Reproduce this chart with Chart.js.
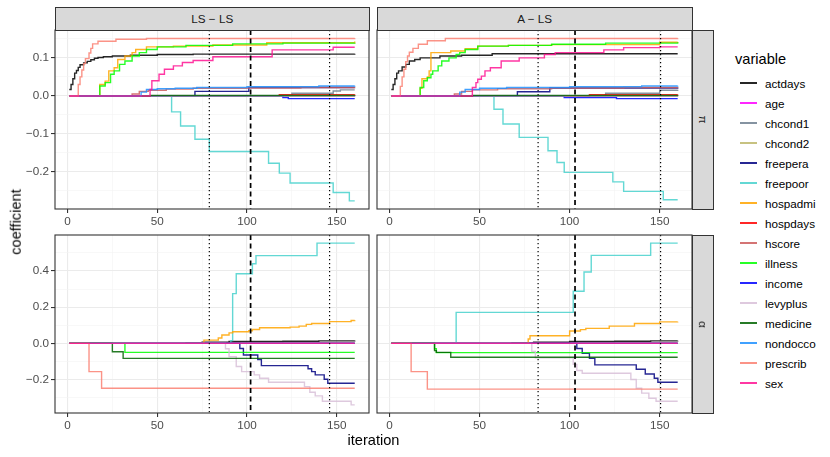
<!DOCTYPE html>
<html><head><meta charset="utf-8">
<script src="https://cdn.jsdelivr.net/npm/chart.js@4.4.0/dist/chart.umd.min.js"></script>
<style>
html,body{margin:0;padding:0;background:#fff;}
body{width:830px;height:457px;position:relative;overflow:hidden;font-family:"Liberation Sans",Arial,sans-serif;}
canvas{position:absolute;}
.strip{position:absolute;background:#D9D9D9;border:1px solid #333;box-sizing:border-box;color:#1A1A1A;font-size:11.7px;display:flex;align-items:center;justify-content:center;}
.strip.r span{display:inline-block;transform:rotate(90deg);}
.atitle{position:absolute;font-size:14.6px;color:#000;white-space:nowrap;}
.lg{position:absolute;font-size:11.7px;color:#000;white-space:nowrap;}
.key{position:absolute;height:2px;}
</style></head><body>
<canvas id="c0" width="371" height="203" style="left:0px;top:28px"></canvas>
<canvas id="c1" width="319" height="203" style="left:375px;top:28px"></canvas>
<canvas id="c2" width="371" height="202" style="left:0px;top:233px"></canvas>
<canvas id="c3" width="319" height="202" style="left:375px;top:233px"></canvas>
<div id="deco"></div>
<script>
// ---------------- DATA ----------------
const variables = ['actdays','age','chcond1','chcond2','freepera','freepoor','hospadmi','hospdays','hscore','illness','income','levyplus','medicine','nondocco','prescrib','sex'];
const facetCols = ['LS \u2212 LS', 'A \u2212 LS'];
const facetRows = ['\u03C0', '\u03B1'];
const xTicks = [0, 50, 100, 150];
const xMinorTicks = [25, 75, 125];
const piTicks = [-0.2, -0.1, 0, 0.1];
const piMinorTicks = [-0.25, -0.15, -0.05, 0.05, 0.15];
const alphaTicks = [-0.2, 0, 0.2, 0.4];
const alphaMinorTicks = [-0.3, -0.1, 0.1, 0.3, 0.5];
const vlinesLSLS = [79, 102, 146];
const vlinesALS = [82.5, 103, 150.5];

// step change points [iteration, coefficient] per variable (order of `variables`)
const stepsPiLSLS = [
  [[1,0.017],[2,0.03],[3,0.045],[4,0.06],[5,0.067],[6,0.075],[7,0.082],[9,0.087],[11,0.091],[13,0.095],[15,0.099],[17,0.101],[20,0.103],[25,0.105],[35,0.107],[50,0.109],[70,0.11],[160,0.111]],
  [[1,0],[160,0]],
  [[1,0],[124,0],[125,0.007],[148,0.013],[152,0.016],[160,0.016]],
  [[1,0],[160,0]],
  [[1,0],[70,0],[71,0.012],[101,0.022],[160,0.022]],
  [[1,0],[57,0],[58,-0.042],[63,-0.079],[71,-0.114],[79,-0.146],[112,-0.177],[118,-0.203],[124,-0.229],[148,-0.254],[157,-0.276],[160,-0.276]],
  [[1,0],[17,0],[18,0.03],[21,0.039],[23,0.066],[26,0.074],[28,0.096],[32,0.105],[36,0.114],[38,0.122],[44,0.129],[59,0.131],[81,0.134],[111,0.14],[160,0.143]],
  [[1,0],[117,0],[118,0.003],[160,0.004]],
  [[1,0],[35,0],[36,0.005],[40,0.012],[45,0.015],[55,0.018],[70,0.02],[100,0.021],[130,0.022],[160,0.023]],
  [[1,0],[17,0],[18,0.026],[21,0.035],[24,0.057],[26,0.066],[29,0.083],[32,0.092],[36,0.105],[40,0.114],[44,0.122],[50,0.129],[66,0.133],[92,0.137],[120,0.139],[160,0.14]],
  [[1,0],[119,0],[120,-0.004],[123,-0.007],[160,-0.007]],
  [[1,0],[160,0]],
  [[1,0],[45,0],[46,0.001],[160,0.002]],
  [[1,0],[40,0],[41,0.01],[44,0.017],[50,0.019],[60,0.02],[72,0.022],[100,0.024],[140,0.026],[160,0.027]],
  [[1,0],[5,0],[6,0.03],[7,0.05],[8,0.068],[9,0.085],[10,0.098],[12,0.113],[13,0.125],[14,0.137],[17,0.144],[27,0.149],[44,0.151],[160,0.152]],
  [[1,0],[45,0],[46,0.017],[47,0.04],[51,0.057],[54,0.07],[59,0.079],[64,0.088],[70,0.093],[81,0.103],[114,0.121],[148,0.128],[160,0.128]]
];
const stepsPiALS = [
  [[1,0.017],[2,0.03],[3,0.045],[4,0.06],[5,0.066],[7,0.076],[9,0.083],[11,0.092],[14,0.096],[17,0.1],[28,0.105],[40,0.107],[57,0.111],[160,0.111]],
  [[1,0],[160,0]],
  [[1,0],[119,0],[120,0.007],[150,0.015],[160,0.016]],
  [[1,0],[160,0]],
  [[1,0],[70,0],[71,0.011],[89,0.021],[160,0.022]],
  [[1,0],[57,0],[58,-0.035],[63,-0.074],[72,-0.109],[88,-0.144],[93,-0.175],[97,-0.201],[124,-0.226],[130,-0.251],[152,-0.273],[160,-0.273]],
  [[1,0],[16,0],[17,0.02],[18,0.045],[21,0.05],[22,0.066],[23,0.114],[34,0.118],[42,0.124],[49,0.131],[66,0.133],[90,0.135],[150,0.141],[160,0.142]],
  [[1,0],[110,0],[111,0.003],[160,0.004]],
  [[1,0],[35,0],[36,0.005],[40,0.012],[46,0.016],[60,0.019],[90,0.021],[130,0.022],[160,0.023]],
  [[1,0],[16,0],[17,0.022],[19,0.04],[21,0.048],[23,0.057],[24,0.066],[27,0.079],[29,0.092],[33,0.1],[37,0.109],[39,0.114],[42,0.122],[49,0.131],[66,0.133],[90,0.136],[120,0.139],[160,0.141]],
  [[1,0],[96,0],[97,-0.004],[126,-0.007],[160,-0.007]],
  [[1,0],[160,0]],
  [[1,0],[45,0],[46,0.001],[160,0.002]],
  [[1,0],[38,0],[39,0.01],[42,0.017],[50,0.02],[65,0.022],[100,0.024],[140,0.026],[160,0.027]],
  [[1,0],[5,0],[6,0.025],[7,0.05],[8,0.07],[9,0.09],[10,0.105],[11,0.115],[13,0.125],[16,0.136],[21,0.145],[31,0.151],[160,0.152]],
  [[1,0],[45,0],[46,0.022],[48,0.035],[49,0.044],[51,0.052],[53,0.066],[56,0.074],[62,0.092],[72,0.1],[86,0.109],[92,0.114],[119,0.121],[130,0.127],[150,0.129],[160,0.129]]
];
const stepsAlphaLSLS = [
  [[1,0],[65,0],[66,0.003],[75,0.006],[90,0.01],[120,0.012],[140,0.014],[160,0.016]],
  [[1,0],[160,0]],
  [[1,0],[160,0]],
  [[1,0],[160,0]],
  [[1,0],[95,0],[96,-0.028],[98,-0.064],[106,-0.09],[108,-0.123],[134,-0.14],[136,-0.156],[138,-0.174],[143,-0.198],[145,-0.22],[160,-0.22]],
  [[1,0],[90,0],[91,0.015],[92,0.275],[94,0.385],[103,0.44],[105,0.485],[139,0.554],[160,0.554]],
  [[1,0],[75,0],[76,0.018],[84,0.03],[86,0.046],[90,0.058],[92,0.064],[101,0.07],[103,0.077],[107,0.086],[124,0.09],[129,0.095],[133,0.105],[136,0.11],[146,0.12],[158,0.126],[160,0.128]],
  [[1,0],[160,0]],
  [[1,0],[160,0]],
  [[1,0],[31,0],[32,-0.05],[160,-0.05]],
  [[1,0],[160,0]],
  [[1,0],[87,0],[88,-0.03],[90,-0.073],[94,-0.128],[97,-0.156],[104,-0.174],[107,-0.193],[112,-0.215],[132,-0.239],[135,-0.27],[138,-0.29],[142,-0.32],[158,-0.34],[160,-0.34]],
  [[1,0],[24,0],[25,-0.046],[31,-0.083],[160,-0.083]],
  [[1,0],[160,0]],
  [[1,0],[11,0],[12,-0.156],[19,-0.248],[160,-0.248]],
  [[1,0],[160,0]]
];
const stepsAlphaALS = [
  [[1,0],[67,0],[68,0.003],[80,0.006],[100,0.01],[125,0.012],[145,0.014],[160,0.015]],
  [[1,0],[160,0]],
  [[1,0],[160,0]],
  [[1,0],[160,0]],
  [[1,0],[103,0],[104,-0.028],[107,-0.055],[111,-0.083],[114,-0.119],[137,-0.143],[142,-0.169],[147,-0.193],[149,-0.215],[160,-0.215]],
  [[1,0],[36,0],[37,0.171],[102,0.288],[108,0.394],[112,0.486],[145,0.554],[160,0.554]],
  [[1,0],[76,0],[77,0.024],[78,0.042],[100,0.068],[106,0.076],[109,0.083],[122,0.095],[136,0.11],[150,0.119],[160,0.12]],
  [[1,0],[160,0]],
  [[1,0],[160,0]],
  [[1,0],[24,0],[25,-0.03],[26,-0.051],[160,-0.051]],
  [[1,0],[160,0]],
  [[1,0],[77,0],[79,-0.045],[81,-0.08],[102,-0.116],[104,-0.15],[107,-0.165],[134,-0.2],[137,-0.248],[140,-0.275],[144,-0.303],[148,-0.32],[160,-0.32]],
  [[1,0],[24,0],[25,-0.04],[26,-0.05],[34,-0.077],[160,-0.077]],
  [[1,0],[160,0]],
  [[1,0],[11,0],[12,-0.156],[21,-0.253],[160,-0.253]],
  [[1,0],[160,0]]
];

// ---------------- STYLE ----------------
const varColors = ['#000000','#FF00FF','#708090','#BDB76B','#000080','#48D1CC','#FFA500','#FF0000','#CD5C5C','#00FF00','#0000FF','#D8BFD8','#006400','#1E90FF','#FA8072','#FF1493'];
const ALPHA = 0.85;
function rgba(hex, a){const n=parseInt(hex.slice(1),16);return 'rgba('+((n>>16)&255)+','+((n>>8)&255)+','+(n&255)+','+a+')';}
const FONT = '"Liberation Sans", Arial, sans-serif';

function expandRange(lists, idx){
  let lo=Infinity, hi=-Infinity;
  lists.forEach(L=>L.forEach(s=>s.forEach(p=>{lo=Math.min(lo,p[idx]);hi=Math.max(hi,p[idx]);})));
  const pad=(hi-lo)*0.05; return [lo-pad, hi+pad];
}
const xRange = expandRange([stepsPiLSLS,stepsPiALS,stepsAlphaLSLS,stepsAlphaALS],0);
const piRange = expandRange([stepsPiLSLS,stepsPiALS],1);
const alphaRange = expandRange([stepsAlphaLSLS,stepsAlphaALS],1);

function buildTicks(major, minor){
  return major.map(v=>({value:v,isMajor:true})).concat(minor.map(v=>({value:v,isMajor:false}))).sort((a,b)=>a.value-b.value);
}
function fmtY(v){ return (Math.abs(v)<1e-9?0:v).toFixed(1).replace('-','\u2212'); }

function makeDeco(vlines){
  return {
    id:'deco',
    afterDatasetsDraw(chart){
      const {ctx, chartArea:a} = chart; const x = chart.scales.x;
      ctx.save();
      ctx.beginPath(); ctx.rect(a.left,a.top,a.right-a.left,a.bottom-a.top); ctx.clip();
      vlines.forEach((v,i)=>{
        const px = x.getPixelForValue(v);
        const dashed = (i===1);
        ctx.setLineDash(dashed?[5,3.5]:[1.2,2.8]);
        ctx.lineWidth = dashed?1.7:1.2;
        ctx.strokeStyle = '#000';
        ctx.beginPath(); ctx.moveTo(px,a.top); ctx.lineTo(px,a.bottom); ctx.stroke();
      });
      ctx.restore();
      ctx.save();
      ctx.strokeStyle='#333333'; ctx.lineWidth=1.1;
      ctx.strokeRect(a.left,a.top,a.right-a.left,a.bottom-a.top);
      ctx.restore();
    }
  };
}

function gridColor(ctx){ return ctx.tick && ctx.tick.isMajor ? '#EBEBEB' : '#F3F3F3'; }
function gridWidth(ctx){ return ctx.tick && ctx.tick.isMajor ? 1.1 : 0.6; }
function tickColor(ctx){ return ctx.tick && ctx.tick.isMajor ? '#333333' : 'rgba(0,0,0,0)'; }

function makeChart(id, steps, yRange, yMajor, yMinor, vlines, leftCol){
  const N = variables.length;
  const datasets = steps.map((s,i)=>({
    label: variables[i],
    data: s.map(p=>({x:p[0], y:p[1]})),
    borderColor: rgba(varColors[i], ALPHA),
    borderWidth: 1.4,
    pointRadius: 0,
    stepped: true,
    fill: false,
    order: N-1-i
  }));
  return new Chart(document.getElementById(id), {
    type:'line',
    data:{datasets},
    plugins:[makeDeco(vlines)],
    options:{
      responsive:false, animation:false, events:[],
      layout:{padding:{left: leftCol?0:2, right:2, top:2, bottom:0}},
      plugins:{legend:{display:false}, tooltip:{enabled:false}},
      scales:{
        x:{
          type:'linear', min:xRange[0], max:xRange[1],
          afterBuildTicks: sc=>{ sc.ticks = buildTicks(xTicks, xMinorTicks); },
          afterFit: sc=>{ sc.height = 22; sc.paddingLeft=0; sc.paddingRight=0; sc.paddingTop=0; sc.paddingBottom=0; },
          border:{display:false},
          grid:{color:gridColor, lineWidth:gridWidth, tickColor:tickColor, tickLength:4, tickWidth:1.1},
          ticks:{includeBounds:false, autoSkip:false, maxRotation:0, padding:2, color:'#4D4D4D', font:{family:FONT,size:11.7},
            callback:(v,i,t)=> t[i].isMajor ? String(v) : ''}
        },
        y:{
          type:'linear', min:yRange[0], max:yRange[1],
          afterBuildTicks: sc=>{ sc.ticks = buildTicks(yMajor, yMinor); },
          afterFit: sc=>{ sc.width = leftCol?55:0; sc.paddingLeft=0; sc.paddingRight=0; sc.paddingTop=0; sc.paddingBottom=0; },
          border:{display:false},
          grid:{color:gridColor, lineWidth:gridWidth, tickColor:tickColor, tickLength:4, tickWidth:1.1, drawTicks:leftCol},
          ticks:{display:leftCol, includeBounds:false, autoSkip:false, padding:2, color:'#4D4D4D', font:{family:FONT,size:11.7},
            callback:(v,i,t)=> t[i].isMajor ? fmtY(v) : ''}
        }
      }
    }
  });
}

const charts = [
  makeChart('c0', stepsPiLSLS, piRange, piTicks, piMinorTicks, vlinesLSLS, true),
  makeChart('c1', stepsPiALS, piRange, piTicks, piMinorTicks, vlinesALS, false),
  makeChart('c2', stepsAlphaLSLS, alphaRange, alphaTicks, alphaMinorTicks, vlinesLSLS, true),
  makeChart('c3', stepsAlphaALS, alphaRange, alphaTicks, alphaMinorTicks, vlinesALS, false)
];

// ---------------- DECORATIONS (strips, titles, legend) ----------------
const deco = document.getElementById('deco');
function addDiv(cls, style, html){ const d=document.createElement('div'); d.className=cls; Object.assign(d.style, style); d.innerHTML=html; deco.appendChild(d); return d; }
function canvasArea(ch, id){
  const c=document.getElementById(id); const a=ch.chartArea;
  return {left:c.offsetLeft+a.left, top:c.offsetTop+a.top, right:c.offsetLeft+a.right, bottom:c.offsetTop+a.bottom};
}
const A = charts.map((ch,i)=>canvasArea(ch,'c'+i));
[0,1].forEach(ci=>{
  const a=A[ci];
  addDiv('strip', {left:a.left+'px', top:(a.top-23)+'px', width:(a.right-a.left+0.5)+'px', height:'23.5px'}, facetCols[ci]);
});
[1,3].forEach((pi,ri)=>{
  const a=A[pi];
  addDiv('strip r', {left:a.right+'px', top:a.top+'px', width:'22px', height:(a.bottom-a.top+0.5)+'px'}, '<span>'+facetRows[ri]+'</span>');
});
const xt = addDiv('atitle', {top:'432px'}, 'iteration');
xt.style.left = ((A[2].left + A[3].right)/2 - xt.offsetWidth/2)+'px';
const yt = addDiv('atitle', {}, 'coefficient');
yt.style.left = (15 - yt.offsetWidth/2)+'px';
yt.style.top = ((A[0].top + A[2].bottom)/2 - yt.offsetHeight/2)+'px';
yt.style.transform = 'rotate(-90deg)';
addDiv('atitle', {left:'735px', top:'51px'}, 'variable');
variables.forEach((v,i)=>{
  const cy = 83.3 + 20*i;
  addDiv('key', {left:'740px', top:(cy-1)+'px', width:'17px', backgroundColor:rgba(varColors[i], ALPHA)}, '');
  const l = addDiv('lg', {left:'765px'}, v);
  l.style.top = (cy - l.offsetHeight/2)+'px';
});
</script>
</body></html>
